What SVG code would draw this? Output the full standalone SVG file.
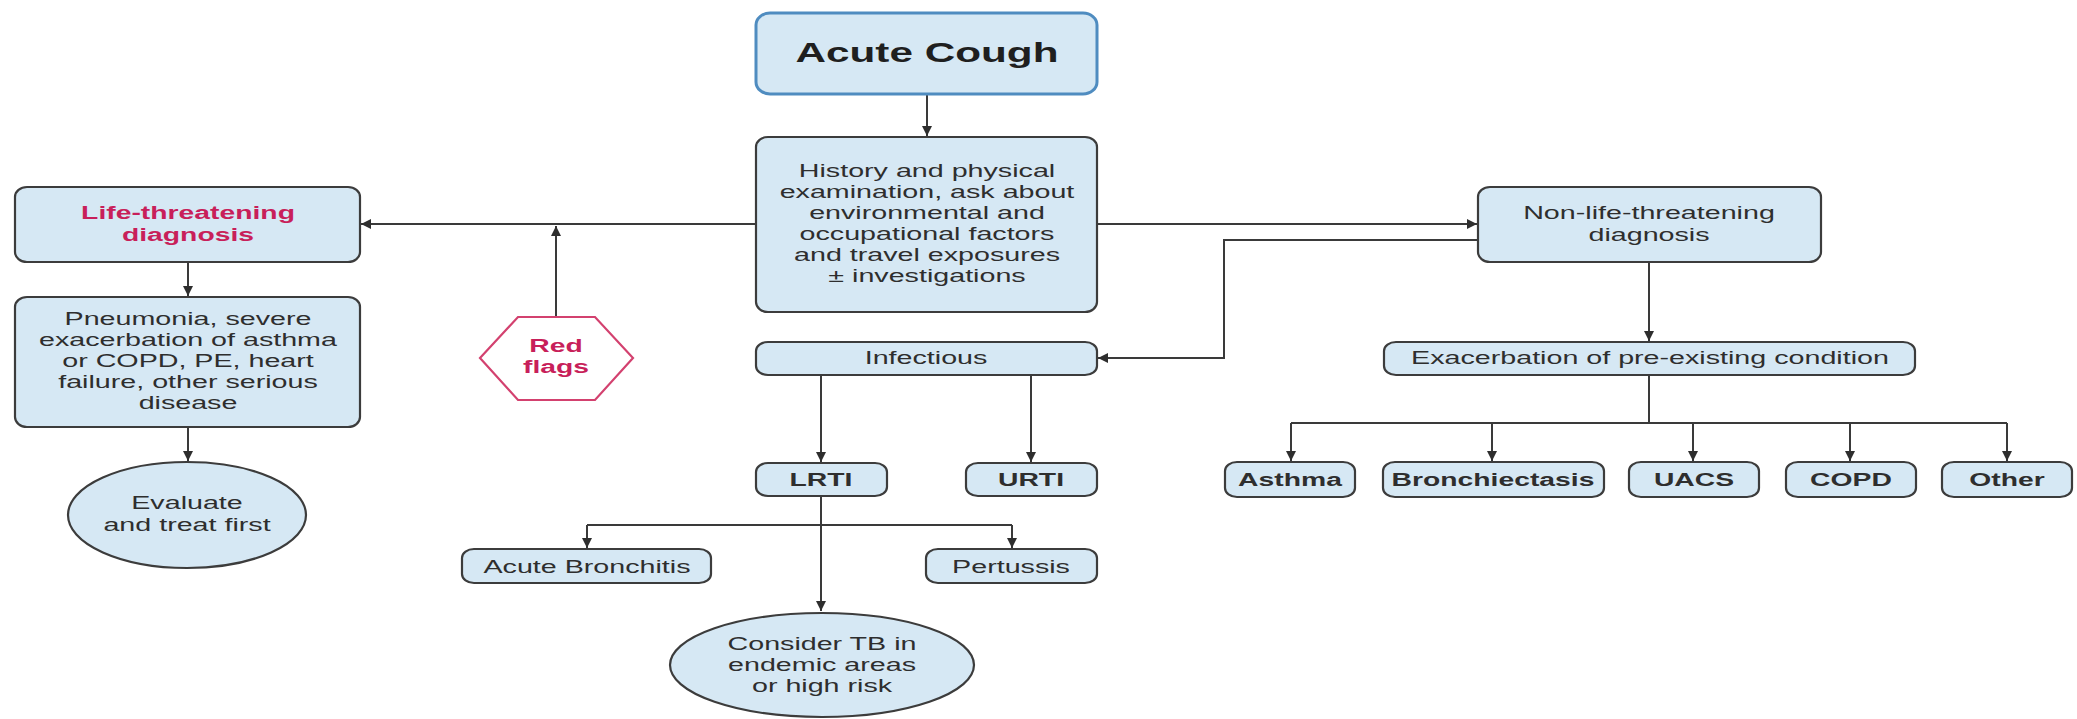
<svg xmlns="http://www.w3.org/2000/svg" width="2077" height="719" viewBox="0 0 2077 719">
<defs>
<marker id="ah" viewBox="0 0 10 10" refX="10" refY="5" markerWidth="11" markerHeight="10" markerUnits="userSpaceOnUse" orient="auto">
<path d="M0,0 L10,5 L0,10 z" fill="#2e2e2e"/>
</marker>
<style>
.box{fill:#d6e8f4;stroke:#3c3c3c;stroke-width:2.2}
.top{fill:#d6e8f4;stroke:#4f8cc0;stroke-width:3}
.hex{fill:#ffffff;stroke:#d3416f;stroke-width:2.2}
.ln{fill:none;stroke:#3a3a3a;stroke-width:2}
.ar{fill:none;stroke:#3a3a3a;stroke-width:2;marker-end:url(#ah)}
text{font-family:"Liberation Sans",Arial,sans-serif;font-size:18.5px;text-anchor:middle;fill:#2e2e2e}
.b{font-weight:bold}
.red{fill:#c81f5a}
.big{font-size:28px;fill:#1f1f1f}
</style>
</defs>
<g id="connectors">
<path class="ar" d="M927,94 V136"/>
<path class="ar" d="M756,224 H361"/>
<path class="ar" d="M556,317 V226"/>
<path class="ar" d="M1097,224 H1477"/>
<path class="ar" d="M1478,240 H1224 V358 H1098"/>
<path class="ar" d="M188,262 V296"/>
<path class="ar" d="M188,427 V461"/>
<path class="ar" d="M1649,262 V341"/>
<path class="ln" d="M1649,375 V423 M1291,423 H2007"/>
<path class="ar" d="M1291,423 V461"/>
<path class="ar" d="M1492,423 V461"/>
<path class="ar" d="M1693,423 V461"/>
<path class="ar" d="M1850,423 V461"/>
<path class="ar" d="M2007,423 V461"/>
<path class="ar" d="M821,375 V462"/>
<path class="ar" d="M1031,375 V462"/>
<path class="ar" d="M821,496 V611"/>
<path class="ln" d="M587,525 H1012"/>
<path class="ar" d="M587,525 V548"/>
<path class="ar" d="M1012,525 V548"/>
</g>
<g id="acute-cough">
<rect class="top" x="756" y="13" width="341" height="81" rx="14" ry="12"/>
<text class="b big" transform="translate(927,0) scale(1.51,1)" x="0" y="62">Acute Cough</text>
</g>
<g id="history">
<rect class="box" x="756" y="137" width="341" height="175" rx="12" ry="10"/>
<text transform="translate(927,0) scale(1.55,1)"><tspan x="0" y="177">History and physical</tspan><tspan x="0" y="198">examination, ask about</tspan><tspan x="0" y="219">environmental and</tspan><tspan x="0" y="240">occupational factors</tspan><tspan x="0" y="261">and travel exposures</tspan><tspan x="0" y="282">± investigations</tspan></text>
</g>
<g id="life-threatening">
<rect class="box" x="15" y="187" width="345" height="75" rx="12" ry="10"/>
<text class="b red" transform="translate(188,0) scale(1.53,1)"><tspan x="0" y="219">Life-threatening</tspan><tspan x="0" y="241">diagnosis</tspan></text>
</g>
<g id="pneumonia">
<rect class="box" x="15" y="297" width="345" height="130" rx="12" ry="10"/>
<text transform="translate(188,0) scale(1.55,1)"><tspan x="0" y="325">Pneumonia, severe</tspan><tspan x="0" y="346">exacerbation of asthma</tspan><tspan x="0" y="367">or COPD, PE, heart</tspan><tspan x="0" y="388">failure, other serious</tspan><tspan x="0" y="409">disease</tspan></text>
</g>
<g id="evaluate">
<ellipse class="box" cx="187" cy="515" rx="119" ry="53"/>
<text transform="translate(187,0) scale(1.55,1)"><tspan x="0" y="509">Evaluate</tspan><tspan x="0" y="531">and treat first</tspan></text>
</g>
<g id="red-flags">
<polygon class="hex" points="480,358 518,317 595,317 633,358 595,400 518,400"/>
<text class="b red" transform="translate(556,0) scale(1.53,1)"><tspan x="0" y="352">Red</tspan><tspan x="0" y="373">flags</tspan></text>
</g>
<g id="non-life-threatening">
<rect class="box" x="1478" y="187" width="343" height="75" rx="12" ry="10"/>
<text transform="translate(1649,0) scale(1.55,1)"><tspan x="0" y="219">Non-life-threatening</tspan><tspan x="0" y="241">diagnosis</tspan></text>
</g>
<g id="infectious">
<rect class="box" x="756" y="342" width="341" height="33" rx="12" ry="9"/>
<text transform="translate(926,0) scale(1.55,1)" x="0" y="364">Infectious</text>
</g>
<g id="exacerbation">
<rect class="box" x="1384" y="342" width="531" height="33" rx="12" ry="9"/>
<text transform="translate(1650,0) scale(1.55,1)" x="0" y="364">Exacerbation of pre-existing condition</text>
</g>
<g id="lrti">
<rect class="box" x="756" y="463" width="131" height="33" rx="12" ry="9"/>
<text class="b" transform="translate(821,0) scale(1.53,1)" x="0" y="486">LRTI</text>
</g>
<g id="urti">
<rect class="box" x="966" y="463" width="131" height="33" rx="12" ry="9"/>
<text class="b" transform="translate(1031,0) scale(1.53,1)" x="0" y="486">URTI</text>
</g>
<g id="acute-bronchitis">
<rect class="box" x="462" y="549" width="249" height="34" rx="12" ry="9"/>
<text transform="translate(587,0) scale(1.55,1)" x="0" y="573">Acute Bronchitis</text>
</g>
<g id="pertussis">
<rect class="box" x="926" y="549" width="171" height="34" rx="12" ry="9"/>
<text transform="translate(1011,0) scale(1.55,1)" x="0" y="573">Pertussis</text>
</g>
<g id="consider-tb">
<ellipse class="box" cx="822" cy="665" rx="152" ry="52"/>
<text transform="translate(822,0) scale(1.55,1)"><tspan x="0" y="650">Consider TB in</tspan><tspan x="0" y="671">endemic areas</tspan><tspan x="0" y="692">or high risk</tspan></text>
</g>
<g id="asthma">
<rect class="box" x="1225" y="462" width="130" height="35" rx="12" ry="9"/>
<text class="b" transform="translate(1290,0) scale(1.53,1)" x="0" y="486">Asthma</text>
</g>
<g id="bronchiectasis">
<rect class="box" x="1383" y="462" width="221" height="35" rx="12" ry="9"/>
<text class="b" transform="translate(1493,0) scale(1.53,1)" x="0" y="486">Bronchiectasis</text>
</g>
<g id="uacs">
<rect class="box" x="1629" y="462" width="130" height="35" rx="12" ry="9"/>
<text class="b" transform="translate(1694,0) scale(1.53,1)" x="0" y="486">UACS</text>
</g>
<g id="copd">
<rect class="box" x="1786" y="462" width="130" height="35" rx="12" ry="9"/>
<text class="b" transform="translate(1851,0) scale(1.53,1)" x="0" y="486">COPD</text>
</g>
<g id="other">
<rect class="box" x="1942" y="462" width="130" height="35" rx="12" ry="9"/>
<text class="b" transform="translate(2007,0) scale(1.53,1)" x="0" y="486">Other</text>
</g>
</svg>
